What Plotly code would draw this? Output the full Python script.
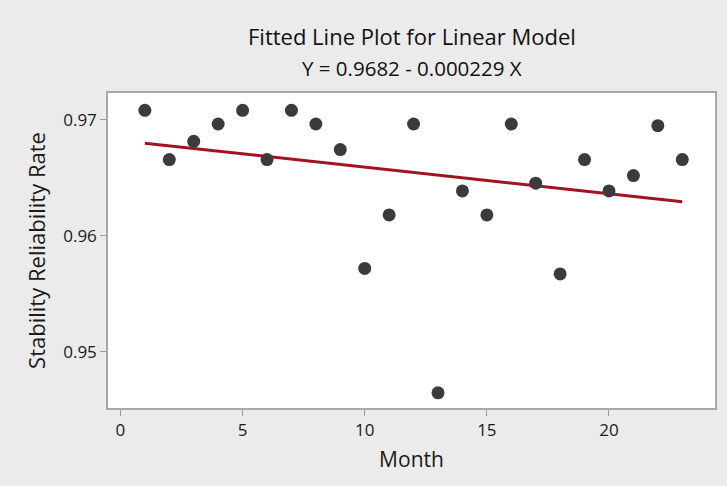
import plotly.graph_objects as go

months = list(range(1, 24))
rates = [0.9708, 0.96656, 0.96813, 0.96962, 0.9708, 0.96656, 0.9708, 0.96962,
         0.96742, 0.95718, 0.96179, 0.96962, 0.94647, 0.96386, 0.96179, 0.96962,
         0.96452, 0.95671, 0.96656, 0.96386, 0.96518, 0.96948, 0.96656]
intercept = 0.9682
slope = -0.000229
x_ticks = [0, 5, 10, 15, 20]
y_ticks = [0.95, 0.96, 0.97]

fit_x = [months[0], months[-1]]
fit_y = [intercept + slope * v for v in fit_x]

font = "Open Sans"
fig = go.Figure()
fig.add_trace(go.Scatter(x=fit_x, y=fit_y, mode="lines",
                         line=dict(color="#a3131f", width=3), showlegend=False))
fig.add_trace(go.Scatter(x=months, y=rates, mode="markers",
                         marker=dict(color="#3b3b3d", size=13), showlegend=False))

fig.update_layout(
    width=727, height=486,
    paper_bgcolor="#ebebeb", plot_bgcolor="#ffffff",
    margin=dict(l=108, r=10, t=93, b=78),
    font=dict(family=font, color="#1a1a1a", size=17),
)
fig.add_annotation(text="Fitted Line Plot for Linear Model", xref="paper", yref="paper",
                   x=0.5, y=1, yanchor="middle", yshift=57, showarrow=False,
                   font=dict(size=22, color="#111111"))
fig.add_annotation(text="Y = 0.9682 - 0.000229 X", xref="paper", yref="paper",
                   x=0.5, y=1, yanchor="middle", yshift=25, showarrow=False,
                   font=dict(size=20.5, color="#111111"))

fig.update_xaxes(range=[-0.51, 24.34], tickvals=x_ticks, ticks="outside", ticklen=6,
                 tickcolor="#9a9a9a", showgrid=False, zeroline=False,
                 showline=True, linecolor="#a8a8a8", linewidth=1.5, mirror=True,
                 title=dict(text="Month", font=dict(size=21), standoff=12),
                 tickfont=dict(size=17))
fig.update_yaxes(range=[0.94516, 0.97229], tickvals=y_ticks, tickformat=".2f",
                 ticks="outside", ticklen=6, tickcolor="#9a9a9a", showgrid=False,
                 zeroline=False, showline=True, linecolor="#a8a8a8", linewidth=1.5,
                 mirror=True,
                 title=dict(text="Stability Reliability Rate", font=dict(size=22), standoff=12),
                 tickfont=dict(size=17))

fig.write_html("out.html")
